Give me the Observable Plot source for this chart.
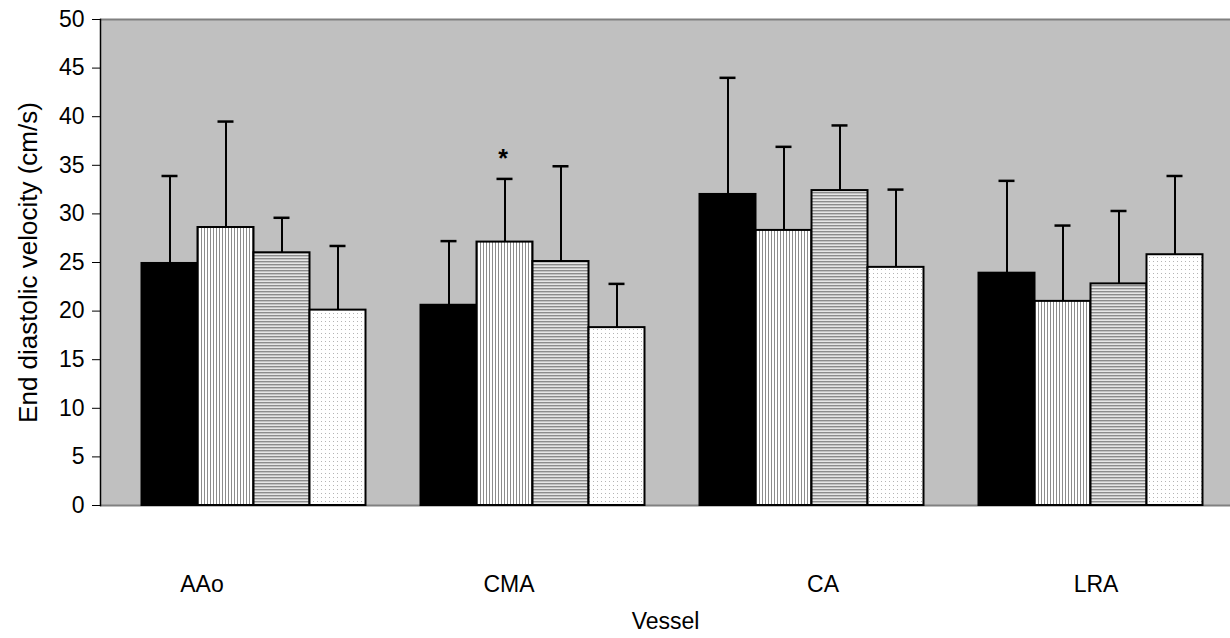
<!DOCTYPE html>
<html>
<head>
<meta charset="utf-8">
<script src="https://cdn.jsdelivr.net/npm/d3@7"></script>
<script src="https://cdn.jsdelivr.net/npm/@observablehq/plot@0.6"></script>
<style>
  html, body { margin: 0; padding: 0; background: #fff; }
</style>
</head>
<body>
<div id="chart"></div>
<script>
// ---- data ----
const vessels = ["AAo", "CMA", "CA", "LRA"];
const series = ["Group 1", "Group 2", "Group 3", "Group 4"];
// mean end diastolic velocity (cm/s), one array per series, in vessel order
const means = [
  [24.9, 20.6, 32.0, 23.9],
  [28.6, 27.1, 28.3, 21.0],
  [26.0, 25.1, 32.4, 22.8],
  [20.1, 18.3, 24.5, 25.8]
];
// top of the (upper) error bar, mean + SD
const upper = [
  [33.9, 27.2, 44.0, 33.4],
  [39.5, 33.6, 36.9, 28.8],
  [29.6, 34.9, 39.1, 30.3],
  [26.7, 22.8, 32.5, 33.9]
];
const yTicks = [0, 5, 10, 15, 20, 25, 30, 35, 40, 45, 50];
const yTitle = "End diastolic velocity (cm/s)";
const xTitle = "Vessel";
// significance markers
const marks = [{vessel: "CMA", series: "Group 2", label: "*"}];

// ---- build table ----
const table = [];
series.forEach((s, j) => vessels.forEach((v, i) => {
  table.push({vessel: v, series: s, j, mean: means[j][i], upper: upper[j][i]});
}));
const starRows = marks.map(m => {
  const row = table.find(d => d.vessel === m.vessel && d.series === m.series);
  return {...row, label: m.label};
});

const fills = ["url(#p-solid)", "url(#p-vert)", "url(#p-horiz)", "url(#p-dots)"];
const BAND = 279, OUTER = 27.5, BW = 56, CAP = 16;

const barMarks = [];
series.forEach((s, j) => {
  const rows = table.filter(d => d.j === j);
  const left = OUTER + BW * j;
  const right = BAND - left - BW;
  const center = left + BW / 2;
  barMarks.push(
    Plot.barY(rows, {
      x: "vessel", y1: 0, y2: "mean",
      insetLeft: left, insetRight: right,
      fill: fills[j], stroke: "#000", strokeWidth: 2
    }),
    Plot.ruleX(rows, {
      x: "vessel", y1: "mean", y2: "upper",
      dx: center - BAND / 2, stroke: "#000", strokeWidth: 2
    }),
    Plot.tickY(rows, {
      x: "vessel", y: "upper",
      insetLeft: center - CAP / 2, insetRight: BAND - center - CAP / 2,
      stroke: "#000", strokeWidth: 2.5
    })
  );
});

// category labels sit slightly off the group centres in the reference
const labelNudge = {AAo: -52, CMA: -24, CA: 11, LRA: 5};
const xLabelMarks = vessels.map(v => Plot.axisX({
  ticks: [v], tickSize: 0, tickPadding: 70, dx: labelNudge[v], label: null
}));

const svg = Plot.plot({
  width: 1230,
  height: 638,
  marginLeft: 100,
  marginRight: 0,
  marginTop: 19,
  marginBottom: 133,
  style: {
    fontFamily: "'Liberation Sans', Arial, sans-serif",
    fontSize: "23px",
    color: "#000",
    background: "#fff"
  },
  x: {domain: vessels, range: [113.5, 1229.5], paddingInner: 0, paddingOuter: 0, axis: null},
  y: {domain: [0, 50], axis: null},
  marks: [
    Plot.frame({fill: "#c0c0c0", stroke: "none"}),
    Plot.ruleY([0, 50], {stroke: "#808080", strokeWidth: 2}),
    ...barMarks,
    Plot.text(starRows, {
      x: "vessel", y: "upper", text: "label",
      dx: OUTER + BW * 1 + BW / 2 - BAND / 2 - 2,
      dy: -12, lineAnchor: "bottom", fontSize: 25, fontWeight: "bold", fill: "#000"
    }),
    Plot.frame({anchor: "left", stroke: "#000", strokeWidth: 1.5}),
    Plot.axisY({
      ticks: yTicks, tickSize: 8, tickPadding: 8, stroke: "#000", label: null
    }),
    Plot.text([yTitle], {
      frameAnchor: "left", textAnchor: "middle", lineAnchor: "middle",
      rotate: -90, dx: -72, fontSize: 26, fill: "#000"
    }),
    ...xLabelMarks,
    Plot.text([xTitle], {
      frameAnchor: "bottom", lineAnchor: "middle", dy: 116, fontSize: 23, fill: "#000"
    })
  ]
});

// hatch / dot patterns used as bar fills
const defs = d3.select(svg).insert("defs", ":first-child");
const solid = defs.append("pattern").attr("id", "p-solid").attr("patternUnits", "userSpaceOnUse")
  .attr("width", 4).attr("height", 4);
solid.append("rect").attr("width", 4).attr("height", 4).attr("fill", "#000");

const vert = defs.append("pattern").attr("id", "p-vert").attr("patternUnits", "userSpaceOnUse")
  .attr("width", 3).attr("height", 3);
vert.append("rect").attr("width", 3).attr("height", 3).attr("fill", "#fff");
vert.append("rect").attr("x", 0).attr("width", 1).attr("height", 3).attr("fill", "#8c8c8c");

const horiz = defs.append("pattern").attr("id", "p-horiz").attr("patternUnits", "userSpaceOnUse")
  .attr("width", 3).attr("height", 3);
horiz.append("rect").attr("width", 3).attr("height", 3).attr("fill", "#e6e6e6");
horiz.append("rect").attr("y", 0).attr("width", 3).attr("height", 1.4).attr("fill", "#8c8c8c");

const dots = defs.append("pattern").attr("id", "p-dots").attr("patternUnits", "userSpaceOnUse")
  .attr("width", 4).attr("height", 4);
dots.append("rect").attr("width", 4).attr("height", 4).attr("fill", "#fff");
dots.append("rect").attr("x", 1).attr("y", 1).attr("width", 1).attr("height", 1).attr("fill", "#b4b4b4");

document.getElementById("chart").appendChild(svg);
</script>
</body>
</html>
